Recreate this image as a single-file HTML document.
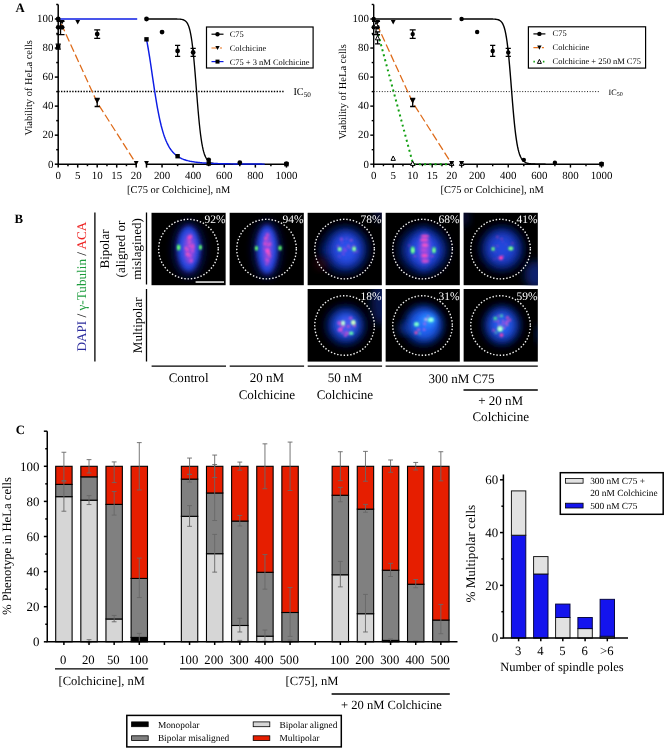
<!DOCTYPE html>
<html><head><meta charset="utf-8"><title>Figure</title>
<style>html,body{margin:0;padding:0;background:#fff}svg{display:block}text{font-family:"Liberation Serif",serif;text-rendering:geometricPrecision}svg{will-change:transform}</style></head><body>
<svg width="668" height="748" viewBox="0 0 668 748" font-family="Liberation Serif, serif">
<rect width="668" height="748" fill="#fff"/>
<g font-weight="bold" font-size="12.8"><text x="15.6" y="12.2">A</text><text x="14.6" y="222.9">B</text><text x="15.8" y="434">C</text></g>
<!-- panel A left -->
<g stroke="#000" stroke-width="1.5" fill="none">
<path d="M58.2 4.48V164.2H136.20"/>
<path d="M146.50 164.2H286.45"/>
<path d="M58.2 164.20h-3.4"/>
<path d="M58.2 149.68h-2"/>
<path d="M58.2 135.16h-3.4"/>
<path d="M58.2 120.64h-2"/>
<path d="M58.2 106.12h-3.4"/>
<path d="M58.2 91.60h-2"/>
<path d="M58.2 77.08h-3.4"/>
<path d="M58.2 62.56h-2"/>
<path d="M58.2 48.04h-3.4"/>
<path d="M58.2 33.52h-2"/>
<path d="M58.2 19.00h-3.4"/>
<path d="M58.2 4.48h-2"/>
<path d="M58.20 164.2v3.4"/>
<path d="M67.95 164.2v2"/>
<path d="M77.70 164.2v3.4"/>
<path d="M87.45 164.2v2"/>
<path d="M97.20 164.2v3.4"/>
<path d="M106.95 164.2v2"/>
<path d="M116.70 164.2v3.4"/>
<path d="M126.45 164.2v2"/>
<path d="M136.20 164.2v3.4"/>
<path d="M146.50 164.2v3.4"/>
<path d="M162.05 164.2v3.4"/>
<path d="M177.60 164.2v2"/>
<path d="M193.15 164.2v3.4"/>
<path d="M208.70 164.2v2"/>
<path d="M224.25 164.2v3.4"/>
<path d="M239.80 164.2v2"/>
<path d="M255.35 164.2v3.4"/>
<path d="M270.90 164.2v2"/>
<path d="M286.45 164.2v3.4"/>
</g>
<g font-size="10.45" fill="#000">
<text x="53.400000000000006" y="167.50" text-anchor="end" font-size="10.9">0</text>
<text x="53.400000000000006" y="138.46" text-anchor="end" font-size="10.9">20</text>
<text x="53.400000000000006" y="109.42" text-anchor="end" font-size="10.9">40</text>
<text x="53.400000000000006" y="80.38" text-anchor="end" font-size="10.9">60</text>
<text x="53.400000000000006" y="51.34" text-anchor="end" font-size="10.9">80</text>
<text x="53.400000000000006" y="22.30" text-anchor="end" font-size="10.9">100</text>
<text x="58.20" y="179.29999999999998" text-anchor="middle" font-size="10.9">0</text>
<text x="77.70" y="179.29999999999998" text-anchor="middle" font-size="10.9">5</text>
<text x="97.20" y="179.29999999999998" text-anchor="middle" font-size="10.9">10</text>
<text x="116.70" y="179.29999999999998" text-anchor="middle" font-size="10.9">15</text>
<text x="136.20" y="179.29999999999998" text-anchor="middle" font-size="10.9">20</text>
<text x="162.05" y="179.29999999999998" text-anchor="middle" font-size="10.9">200</text>
<text x="193.15" y="179.29999999999998" text-anchor="middle" font-size="10.9">400</text>
<text x="224.25" y="179.29999999999998" text-anchor="middle" font-size="10.9">600</text>
<text x="255.35" y="179.29999999999998" text-anchor="middle" font-size="10.9">800</text>
<text x="286.45" y="179.29999999999998" text-anchor="middle" font-size="10.9">1000</text>
<text x="178.7" y="192.79999999999998" text-anchor="middle">[C75 or Colchicine], nM</text>
<text transform="translate(32.400000000000006 87.8) rotate(-90)" text-anchor="middle">Viability of HeLa cells</text>
</g>
<path d="M58.2 91.60H284.45" stroke="#000" stroke-width="1.5" stroke-dasharray="1.4 1.4" fill="none"/>
<text x="293.4" y="94.6" font-size="10.3">IC<tspan font-size="7.2" dy="2.2">50</tspan></text>
<path d="M146.50 19.00 L147.12 19.00 L147.74 19.00 L148.37 19.00 L148.99 19.00 L149.61 19.00 L150.23 19.00 L150.85 19.00 L151.48 19.00 L152.10 19.00 L152.72 19.00 L153.34 19.00 L153.96 19.00 L154.59 19.00 L155.21 19.00 L155.83 19.00 L156.45 19.00 L157.07 19.00 L157.70 19.00 L158.32 19.00 L158.94 19.00 L159.56 19.00 L160.18 19.00 L160.81 19.00 L161.43 19.00 L162.05 19.00 L162.67 19.00 L163.29 19.00 L163.92 19.00 L164.54 19.00 L165.16 19.00 L165.78 19.00 L166.40 19.00 L167.03 19.00 L167.65 19.00 L168.27 19.00 L168.89 19.00 L169.51 19.00 L170.14 19.00 L170.76 19.00 L171.38 19.00 L172.00 19.00 L172.62 19.00 L173.25 19.01 L173.87 19.01 L174.49 19.01 L175.11 19.02 L175.73 19.02 L176.36 19.03 L176.98 19.04 L177.60 19.06 L178.22 19.08 L178.84 19.10 L179.47 19.14 L180.09 19.19 L180.71 19.25 L181.33 19.33 L181.95 19.44 L182.58 19.58 L183.20 19.76 L183.82 20.00 L184.44 20.31 L185.06 20.70 L185.69 21.21 L186.31 21.85 L186.93 22.66 L187.55 23.69 L188.17 24.97 L188.80 26.57 L189.42 28.54 L190.04 30.95 L190.66 33.88 L191.28 37.37 L191.91 41.50 L192.53 46.31 L193.15 51.81 L193.77 57.98 L194.39 64.77 L195.02 72.07 L195.64 79.75 L196.26 87.64 L196.88 95.54 L197.50 103.28 L198.13 110.69 L198.75 117.64 L199.37 124.02 L199.99 129.78 L200.61 134.90 L201.24 139.39 L201.86 143.29 L202.48 146.63 L203.10 149.48 L203.72 151.90 L204.35 153.93 L204.97 155.63 L205.59 157.06 L206.21 158.25 L206.83 159.24 L207.46 160.07 L208.08 160.75 L208.70 161.32 L209.32 161.80 L209.94 162.19 L210.57 162.52 L211.19 162.79 L211.81 163.02 L212.43 163.21 L213.05 163.37 L213.68 163.50 L214.30 163.61 L214.92 163.70 L215.54 163.78 L216.16 163.84 L216.79 163.90 L217.41 163.94 L218.03 163.98 L218.65 164.02 L219.27 164.04 L219.90 164.07 L220.52 164.09 L221.14 164.10 L221.76 164.12 L222.38 164.13 L223.01 164.14 L223.63 164.15 L224.25 164.16 L224.87 164.16 L225.49 164.17 L226.12 164.17 L226.74 164.18 L227.36 164.18 L227.98 164.18 L228.60 164.18 L229.23 164.19 L229.85 164.19 L230.47 164.19" stroke="#000" stroke-width="1.35" fill="none"/>
<path d="M58.2 19.00H137.20" stroke="#0c1ce4" stroke-width="1.45" fill="none"/>
<path d="M146.50 39.54 L147.28 43.47 L148.06 47.75 L148.83 52.34 L149.61 57.20 L150.39 62.26 L151.16 67.48 L151.94 72.78 L152.72 78.09 L153.50 83.37 L154.28 88.55 L155.05 93.60 L155.83 98.46 L156.61 103.12 L157.38 107.55 L158.16 111.74 L158.94 115.67 L159.72 119.35 L160.50 122.77 L161.27 125.96 L162.05 128.90 L162.83 131.62 L163.60 134.13 L164.38 136.44 L165.16 138.57 L165.94 140.52 L166.72 142.30 L167.49 143.95 L168.27 145.45 L169.05 146.83 L169.82 148.10 L170.60 149.27 L171.38 150.33 L172.16 151.31 L172.94 152.21 L173.71 153.04 L174.49 153.80 L175.27 154.51 L176.04 155.15 L176.82 155.75 L177.60 156.30 L178.38 156.81 L179.16 157.27 L179.93 157.71 L180.71 158.11 L181.49 158.48 L182.26 158.83 L183.04 159.15 L183.82 159.45 L184.60 159.72 L185.38 159.98 L186.15 160.22 L186.93 160.44 L187.71 160.65 L188.49 160.84 L189.26 161.03 L190.04 161.20 L190.82 161.35 L191.59 161.50 L192.37 161.64 L193.15 161.77 L193.93 161.90 L194.70 162.01 L195.48 162.12 L196.26 162.22 L197.04 162.32 L197.81 162.41 L198.59 162.49 L199.37 162.57 L200.15 162.65 L200.93 162.72 L201.70 162.78 L202.48 162.85 L203.26 162.91 L204.03 162.97 L204.81 163.02 L205.59 163.07 L206.37 163.12 L207.15 163.16 L207.92 163.21 L208.70 163.25 L209.48 163.29 L210.25 163.32 L211.03 163.36 L211.81 163.39 L212.59 163.43 L213.37 163.46 L214.14 163.48 L214.92 163.51 L215.70 163.54 L216.47 163.56 L217.25 163.59 L218.03 163.61 L218.81 163.63 L219.58 163.65 L220.36 163.67 L221.14 163.69 L221.92 163.71 L222.69 163.73 L223.47 163.74 L224.25 163.76 L225.03 163.77 L225.81 163.79 L226.58 163.80 L227.36 163.82 L228.14 163.83 L228.92 163.84 L229.69 163.85 L230.47 163.86 L231.25 163.88 L232.03 163.89 L232.80 163.90 L233.58 163.91 L234.36 163.91 L235.13 163.92 L235.91 163.93 L236.69 163.94 L237.47 163.95 L238.25 163.96 L239.02 163.96 L239.80 163.97 L240.58 163.98 L241.36 163.98 L242.13 163.99 L242.91 164.00 L243.69 164.00 L244.47 164.01 L245.24 164.01 L246.02 164.02 L246.80 164.02 L247.57 164.03 L248.35 164.03 L249.13 164.04 L249.91 164.04 L250.69 164.05 L251.46 164.05 L252.24 164.05 L253.02 164.06 L253.80 164.06 L254.57 164.07 L255.35 164.07 L256.13 164.07 L256.90 164.08 L257.68 164.08 L258.46 164.08 L259.24 164.09 L260.01 164.09 L260.79 164.09 L261.57 164.09 L262.35 164.10 L263.12 164.10 L263.90 164.10 L264.68 164.10" stroke="#0c1ce4" stroke-width="1.45" fill="none"/>
<path d="M61.32 24.08L97.20 102.49L136.20 163.76" stroke="#de6a18" stroke-width="1.25" stroke-dasharray="8 3.2" fill="none"/>
<circle cx="58.20" cy="19.00" r="2.4" fill="#000"/>
<circle cx="58.20" cy="27.28" r="2.4" fill="#000"/>
<circle cx="62.10" cy="27.28" r="2.4" fill="#000"/>
<path d="M97.20 29.90V38.30M94.20 29.90h6M94.20 38.30h6" stroke="#000" stroke-width="1.3" fill="none"/>
<circle cx="97.20" cy="34.10" r="2.4" fill="#000"/>
<circle cx="146.50" cy="19.00" r="2.4" fill="#000"/>
<circle cx="162.05" cy="32.07" r="2.4" fill="#000"/>
<path d="M177.60 45.44V56.44M175.00 45.44h5.2M175.00 56.44h5.2" stroke="#000" stroke-width="1.3" fill="none"/>
<circle cx="177.60" cy="50.94" r="2.4" fill="#000"/>
<path d="M193.15 48.40V56.40M190.55 48.40h5.2M190.55 56.40h5.2" stroke="#000" stroke-width="1.3" fill="none"/>
<circle cx="193.15" cy="52.40" r="2.4" fill="#000"/>
<circle cx="208.70" cy="159.84" r="2.4" fill="#000"/>
<circle cx="239.80" cy="162.75" r="2.4" fill="#000"/>
<circle cx="286.45" cy="163.76" r="2.4" fill="#000"/>
<path d="M60.54 21.40V34.60M56.54 21.40h8M56.54 34.60h8" stroke="#000" stroke-width="1.3" fill="none"/>
<path d="M59.70 19.98h4.8l-2.4 4.56z" fill="#000"/>
<path d="M75.30 19.98h4.8l-2.4 4.56z" fill="#000"/>
<path d="M97.20 98.49V106.49M94.60 98.49h5.2M94.60 106.49h5.2" stroke="#000" stroke-width="1.3" fill="none"/>
<path d="M94.80 99.12h4.8l-2.4 4.56z" fill="#000"/>
<path d="M133.80 161.12h4.8l-2.4 4.56z" fill="#000"/>
<path d="M144.10 161.12h4.8l-2.4 4.56z" fill="#000"/>
<path d="M58.20 44.09V49.09M55.60 44.09h5.2M55.60 49.09h5.2" stroke="#000" stroke-width="1.3" fill="none"/>
<rect x="56.00" y="44.39" width="4.4" height="4.4" fill="#000"/>
<rect x="144.30" y="37.13" width="4.4" height="4.4" fill="#000"/>
<rect x="175.40" y="154.01" width="4.4" height="4.4" fill="#000"/>
<rect x="206.50" y="161.27" width="4.4" height="4.4" fill="#000"/>
<rect x="284.25" y="162.00" width="4.4" height="4.4" fill="#000"/>
<rect x="206.5" y="27" width="106.6" height="41" fill="#fff" stroke="#000" stroke-width="1.2"/>
<path d="M211.5 34.2h12" stroke="#000" stroke-width="1.2"/><circle cx="217.50" cy="34.20" r="2.2" fill="#000"/>
<path d="M211.5 48h5m3.5 0h2" stroke="#e8701a" stroke-width="1.2"/><path d="M215.30 45.94h4.4l-2.2 4.18z" fill="#000"/>
<path d="M211.5 61.6h12" stroke="#0c1ce4" stroke-width="1.2"/><rect x="215.50" y="59.60" width="4" height="4" fill="#000"/>
<g font-size="8.45"><text x="229.7" y="36.6">C75</text><text x="229.7" y="50.6">Colchicine</text><text x="229.7" y="64.5">C75 + 3 nM Colchicine</text></g>
<!-- panel A right -->
<g stroke="#000" stroke-width="1.4" fill="none">
<path d="M373.7 4.48V164.2H451.70"/>
<path d="M461.60 164.2H601.55"/>
<path d="M373.7 164.20h-3.4"/>
<path d="M373.7 149.68h-2"/>
<path d="M373.7 135.16h-3.4"/>
<path d="M373.7 120.64h-2"/>
<path d="M373.7 106.12h-3.4"/>
<path d="M373.7 91.60h-2"/>
<path d="M373.7 77.08h-3.4"/>
<path d="M373.7 62.56h-2"/>
<path d="M373.7 48.04h-3.4"/>
<path d="M373.7 33.52h-2"/>
<path d="M373.7 19.00h-3.4"/>
<path d="M373.7 4.48h-2"/>
<path d="M373.70 164.2v3.4"/>
<path d="M383.45 164.2v2"/>
<path d="M393.20 164.2v3.4"/>
<path d="M402.95 164.2v2"/>
<path d="M412.70 164.2v3.4"/>
<path d="M422.45 164.2v2"/>
<path d="M432.20 164.2v3.4"/>
<path d="M441.95 164.2v2"/>
<path d="M451.70 164.2v3.4"/>
<path d="M461.60 164.2v3.4"/>
<path d="M477.15 164.2v3.4"/>
<path d="M492.70 164.2v2"/>
<path d="M508.25 164.2v3.4"/>
<path d="M523.80 164.2v2"/>
<path d="M539.35 164.2v3.4"/>
<path d="M554.90 164.2v2"/>
<path d="M570.45 164.2v3.4"/>
<path d="M586.00 164.2v2"/>
<path d="M601.55 164.2v3.4"/>
</g>
<g font-size="10.45" fill="#000">
<text x="368.9" y="167.50" text-anchor="end" font-size="10.9">0</text>
<text x="368.9" y="138.46" text-anchor="end" font-size="10.9">20</text>
<text x="368.9" y="109.42" text-anchor="end" font-size="10.9">40</text>
<text x="368.9" y="80.38" text-anchor="end" font-size="10.9">60</text>
<text x="368.9" y="51.34" text-anchor="end" font-size="10.9">80</text>
<text x="368.9" y="22.30" text-anchor="end" font-size="10.9">100</text>
<text x="373.70" y="179.29999999999998" text-anchor="middle" font-size="10.9">0</text>
<text x="393.20" y="179.29999999999998" text-anchor="middle" font-size="10.9">5</text>
<text x="412.70" y="179.29999999999998" text-anchor="middle" font-size="10.9">10</text>
<text x="432.20" y="179.29999999999998" text-anchor="middle" font-size="10.9">15</text>
<text x="451.70" y="179.29999999999998" text-anchor="middle" font-size="10.9">20</text>
<text x="477.15" y="179.29999999999998" text-anchor="middle" font-size="10.9">200</text>
<text x="508.25" y="179.29999999999998" text-anchor="middle" font-size="10.9">400</text>
<text x="539.35" y="179.29999999999998" text-anchor="middle" font-size="10.9">600</text>
<text x="570.45" y="179.29999999999998" text-anchor="middle" font-size="10.9">800</text>
<text x="601.55" y="179.29999999999998" text-anchor="middle" font-size="10.9">1000</text>
<text x="492.2" y="192.79999999999998" text-anchor="middle">[C75 or Colchicine], nM</text>
<text transform="translate(345.9 91.9) rotate(-90)" text-anchor="middle">Viability of HeLa cells</text>
</g>
<path d="M373.7 91.60H599.55" stroke="#000" stroke-width="0.9" stroke-dasharray="1 1.7" fill="none"/>
<text x="608.5" y="94.6" font-size="8.2">IC<tspan font-size="6" dy="1.8">50</tspan></text>
<path d="M373.7 19.00H451.70" stroke="#000" stroke-width="1.4" fill="none"/>
<path d="M461.60 19.00 L462.22 19.00 L462.84 19.00 L463.47 19.00 L464.09 19.00 L464.71 19.00 L465.33 19.00 L465.95 19.00 L466.58 19.00 L467.20 19.00 L467.82 19.00 L468.44 19.00 L469.06 19.00 L469.69 19.00 L470.31 19.00 L470.93 19.00 L471.55 19.00 L472.17 19.00 L472.80 19.00 L473.42 19.00 L474.04 19.00 L474.66 19.00 L475.28 19.00 L475.91 19.00 L476.53 19.00 L477.15 19.00 L477.77 19.00 L478.39 19.00 L479.02 19.00 L479.64 19.00 L480.26 19.00 L480.88 19.00 L481.50 19.00 L482.13 19.00 L482.75 19.00 L483.37 19.00 L483.99 19.00 L484.61 19.00 L485.24 19.00 L485.86 19.00 L486.48 19.00 L487.10 19.00 L487.72 19.00 L488.35 19.01 L488.97 19.01 L489.59 19.01 L490.21 19.02 L490.83 19.02 L491.46 19.03 L492.08 19.04 L492.70 19.06 L493.32 19.08 L493.94 19.10 L494.57 19.14 L495.19 19.19 L495.81 19.25 L496.43 19.33 L497.05 19.44 L497.68 19.58 L498.30 19.76 L498.92 20.00 L499.54 20.31 L500.16 20.70 L500.79 21.21 L501.41 21.85 L502.03 22.66 L502.65 23.69 L503.27 24.97 L503.90 26.57 L504.52 28.54 L505.14 30.95 L505.76 33.88 L506.38 37.37 L507.01 41.50 L507.63 46.31 L508.25 51.81 L508.87 57.98 L509.49 64.77 L510.12 72.07 L510.74 79.75 L511.36 87.64 L511.98 95.54 L512.60 103.28 L513.23 110.69 L513.85 117.64 L514.47 124.02 L515.09 129.78 L515.71 134.90 L516.34 139.39 L516.96 143.29 L517.58 146.63 L518.20 149.48 L518.82 151.90 L519.45 153.93 L520.07 155.63 L520.69 157.06 L521.31 158.25 L521.93 159.24 L522.56 160.07 L523.18 160.75 L523.80 161.32 L524.42 161.80 L525.04 162.19 L525.67 162.52 L526.29 162.79 L526.91 163.02 L527.53 163.21 L528.15 163.37 L528.78 163.50 L529.40 163.61 L530.02 163.70 L530.64 163.78 L531.26 163.84 L531.89 163.90 L532.51 163.94 L533.13 163.98 L533.75 164.02 L534.37 164.04 L535.00 164.07 L535.62 164.09 L536.24 164.10 L536.86 164.12 L537.48 164.13 L538.11 164.14 L538.73 164.15 L539.35 164.16 L539.97 164.16 L540.59 164.17 L541.22 164.17 L541.84 164.18 L542.46 164.18 L543.08 164.18 L543.70 164.18 L544.33 164.19 L544.95 164.19 L545.57 164.19" stroke="#000" stroke-width="1.4" fill="none"/>
<path d="M376.82 24.08L412.70 102.49L451.70 163.76" stroke="#de6a18" stroke-width="1.25" stroke-dasharray="8 3.2" fill="none"/>
<path d="M378.19 34.25L413.09 164.20H451.70" stroke="#12a012" stroke-width="2" stroke-dasharray="2 3.2" fill="none"/>
<circle cx="373.70" cy="19.00" r="2.2" fill="#000"/>
<circle cx="373.70" cy="27.28" r="2.2" fill="#000"/>
<circle cx="377.60" cy="27.28" r="2.2" fill="#000"/>
<path d="M412.70 29.90V38.30M409.70 29.90h6M409.70 38.30h6" stroke="#000" stroke-width="1.3" fill="none"/>
<circle cx="412.70" cy="34.10" r="2.2" fill="#000"/>
<circle cx="461.60" cy="19.00" r="2.2" fill="#000"/>
<circle cx="477.15" cy="32.07" r="2.2" fill="#000"/>
<path d="M492.70 45.44V56.44M490.10 45.44h5.2M490.10 56.44h5.2" stroke="#000" stroke-width="1.3" fill="none"/>
<circle cx="492.70" cy="50.94" r="2.2" fill="#000"/>
<path d="M508.25 48.40V56.40M505.65 48.40h5.2M505.65 56.40h5.2" stroke="#000" stroke-width="1.3" fill="none"/>
<circle cx="508.25" cy="52.40" r="2.2" fill="#000"/>
<circle cx="523.80" cy="159.84" r="2.2" fill="#000"/>
<circle cx="554.90" cy="162.75" r="2.2" fill="#000"/>
<circle cx="601.55" cy="163.76" r="2.2" fill="#000"/>
<path d="M376.04 21.40V34.60M372.04 21.40h8M372.04 34.60h8" stroke="#000" stroke-width="1.3" fill="none"/>
<path d="M375.20 19.98h4.8l-2.4 4.56z" fill="#000"/>
<path d="M390.80 19.98h4.8l-2.4 4.56z" fill="#000"/>
<path d="M412.70 98.49V106.49M410.10 98.49h5.2M410.10 106.49h5.2" stroke="#000" stroke-width="1.3" fill="none"/>
<path d="M410.30 99.12h4.8l-2.4 4.56z" fill="#000"/>
<path d="M449.30 161.12h4.8l-2.4 4.56z" fill="#000"/>
<path d="M459.20 161.12h4.8l-2.4 4.56z" fill="#000"/>
<path d="M377.60 31.88V43.88M375.00 31.88h5.2M375.00 43.88h5.2" stroke="#000" stroke-width="1.3" fill="none"/>
<path d="M373.84 26.79h4.4l-2.2 -4.4z" fill="#fff" stroke="#000" stroke-width="1"/>
<path d="M375.40 39.86h4.4l-2.2 -4.4z" fill="#fff" stroke="#000" stroke-width="1"/>
<path d="M391.00 160.37h4.4l-2.2 -4.4z" fill="#fff" stroke="#000" stroke-width="1"/>
<path d="M410.50 165.45h4.4l-2.2 -4.4z" fill="#fff" stroke="#000" stroke-width="1"/>
<path d="M449.50 165.45h4.4l-2.2 -4.4z" fill="#fff" stroke="#000" stroke-width="1"/>
<path d="M459.40 165.45h4.4l-2.2 -4.4z" fill="#fff" stroke="#000" stroke-width="1"/>
<path d="M449.50 161.28h4.4l-2.2 4.18z" fill="#000"/>
<path d="M459.40 161.28h4.4l-2.2 4.18z" fill="#000"/>
<rect x="599.35" y="162.00" width="4.4" height="4.4" fill="#000"/>
<rect x="528.4" y="26.8" width="117.2" height="41.3" fill="#fff" stroke="#000" stroke-width="1.2"/>
<path d="M533.4 33.9h12" stroke="#000" stroke-width="1.2"/><circle cx="539.40" cy="33.90" r="2.2" fill="#000"/>
<path d="M533.4 47.6h5m3.5 0h2" stroke="#e8701a" stroke-width="1.2"/><path d="M537.20 45.54h4.4l-2.2 4.18z" fill="#000"/>
<path d="M533.4 61.599999999999994h12" stroke="#12a012" stroke-width="1.6" stroke-dasharray="1.5 8"/><path d="M537.40 63.40h4l-2 -4z" fill="#fff" stroke="#000" stroke-width="1"/>
<g font-size="8.46"><text x="552.6" y="36.0">C75</text><text x="552.6" y="50.2">Colchicine</text><text x="552.6" y="63.7">Colchicine + 250 nM C75</text></g>
<!-- panel B -->
<defs>
<filter id="b1" x="-50%" y="-50%" width="200%" height="200%"><feGaussianBlur stdDeviation="0.8"/></filter>
<filter id="b2" x="-50%" y="-50%" width="200%" height="200%"><feGaussianBlur stdDeviation="2.2"/></filter>
<filter id="b4" x="-50%" y="-50%" width="200%" height="200%"><feGaussianBlur stdDeviation="4"/></filter>
<filter id="b7" x="-50%" y="-50%" width="200%" height="200%"><feGaussianBlur stdDeviation="7"/></filter>
<clipPath id="cc"><rect x="0" y="0" width="74.5" height="72.8"/></clipPath>
</defs>
<g transform="translate(151.3 212.6)"><g clip-path="url(#cc)">
<rect width="74.5" height="72.8" fill="#000"/>
<ellipse cx="37.4" cy="36.8" rx="15.5" ry="27.5" fill="#08166c" opacity="0.9" filter="url(#b4)"/>
<ellipse cx="37.4" cy="36.2" rx="11" ry="22.5" fill="#2846dc" opacity="1" filter="url(#b2)"/>
<ellipse cx="37.4" cy="34" rx="7" ry="12" fill="#3058ee" opacity="0.7" filter="url(#b4)"/>
<ellipse cx="38.2" cy="36.2" rx="5.6" ry="15.5" fill="#9a48e0" opacity="0.9" filter="url(#b2)"/>
<ellipse cx="35.8" cy="37.4" rx="1.13" ry="1.25" fill="#ff50c0" opacity="0.72" filter="url(#b1)"/>
<ellipse cx="42.0" cy="35.3" rx="1.3" ry="1.16" fill="#d050e0" opacity="0.69" filter="url(#b1)"/>
<ellipse cx="38.7" cy="33.3" rx="1.57" ry="1.44" fill="#e850d0" opacity="0.84" filter="url(#b1)"/>
<ellipse cx="38.4" cy="43.0" rx="1.4" ry="1.17" fill="#ff50c0" opacity="0.59" filter="url(#b1)"/>
<ellipse cx="37.9" cy="42.3" rx="1.59" ry="1.84" fill="#d050e0" opacity="0.63" filter="url(#b1)"/>
<ellipse cx="41.0" cy="34.6" rx="1.64" ry="2.04" fill="#ff50c0" opacity="0.47" filter="url(#b1)"/>
<ellipse cx="38.2" cy="29.4" rx="1.4" ry="1.67" fill="#ff60b8" opacity="0.64" filter="url(#b1)"/>
<ellipse cx="41.3" cy="38.3" rx="1.28" ry="1.29" fill="#e850d0" opacity="0.86" filter="url(#b1)"/>
<ellipse cx="39.9" cy="48.2" rx="1.57" ry="2.03" fill="#e850d0" opacity="0.76" filter="url(#b1)"/>
<ellipse cx="36.6" cy="37.4" rx="1.31" ry="1.12" fill="#e850d0" opacity="0.73" filter="url(#b1)"/>
<ellipse cx="34.7" cy="35.7" rx="1.37" ry="1.43" fill="#ff60b8" opacity="0.81" filter="url(#b1)"/>
<ellipse cx="37.4" cy="26.4" rx="1.06" ry="1.26" fill="#ff50c0" opacity="0.47" filter="url(#b1)"/>
<ellipse cx="39.3" cy="23.5" rx="1.45" ry="1.4" fill="#ff60b8" opacity="0.68" filter="url(#b1)"/>
<ellipse cx="34.3" cy="39.0" rx="0.83" ry="0.74" fill="#d050e0" opacity="0.58" filter="url(#b1)"/>
<ellipse cx="36.0" cy="41.5" rx="1.68" ry="1.63" fill="#ff60b8" opacity="0.88" filter="url(#b1)"/>
<ellipse cx="41.8" cy="32.8" rx="1.21" ry="1.29" fill="#ff50c0" opacity="0.73" filter="url(#b1)"/>
<ellipse cx="38.3" cy="24.8" rx="1.8" ry="1.5" fill="#ff48c0" opacity="1" filter="url(#b1)"/>
<ellipse cx="27.3" cy="35.0" rx="1.7" ry="3.0" fill="#50ff60" opacity="1" filter="url(#b1)"/>
<ellipse cx="27.3" cy="35.0" rx="0.8" ry="1.6" fill="#90ff90" opacity="1" filter="url(#b1)"/>
<ellipse cx="49.1" cy="34.7" rx="1.5" ry="2.6" fill="#50ff60" opacity="1" filter="url(#b1)"/>
<ellipse cx="49.1" cy="34.7" rx="0.7" ry="1.3" fill="#90ff90" opacity="1" filter="url(#b1)"/>
<circle cx="37.15" cy="36.5" r="29.8" fill="none" stroke="#fff" stroke-width="1.4" stroke-dasharray="1.45 1.85" opacity="0.95"/>
<rect x="44.3" y="68.6" width="28.4" height="1.7" fill="#d8d8d8"/>
<text x="74.2" y="10.8" font-size="11.5" fill="#fff" text-anchor="end">92%</text>
</g></g>
<g transform="translate(229.4 212.6)"><g clip-path="url(#cc)">
<rect width="74.5" height="72.8" fill="#000"/>
<ellipse cx="37.7" cy="36.9" rx="14" ry="28.5" fill="#08166c" opacity="0.9" filter="url(#b4)"/>
<ellipse cx="37.7" cy="36.9" rx="10" ry="24" fill="#2846dc" opacity="1" filter="url(#b2)"/>
<ellipse cx="37.7" cy="33" rx="6.5" ry="12" fill="#3058ee" opacity="0.6" filter="url(#b4)"/>
<ellipse cx="37.9" cy="36.3" rx="4.4" ry="17.5" fill="#9a48e0" opacity="0.9" filter="url(#b2)"/>
<ellipse cx="36.7" cy="25.1" rx="1.39" ry="1.16" fill="#ff50c0" opacity="0.61" filter="url(#b1)"/>
<ellipse cx="34.9" cy="36.5" rx="0.83" ry="0.85" fill="#ff50c0" opacity="0.56" filter="url(#b1)"/>
<ellipse cx="38.2" cy="22.2" rx="1.31" ry="1.67" fill="#ff50c0" opacity="0.71" filter="url(#b1)"/>
<ellipse cx="37.2" cy="51.5" rx="0.84" ry="1.03" fill="#ff60b8" opacity="0.64" filter="url(#b1)"/>
<ellipse cx="38.2" cy="38.6" rx="1.3" ry="1.49" fill="#ff50c0" opacity="0.71" filter="url(#b1)"/>
<ellipse cx="38.8" cy="32.2" rx="1.29" ry="1.07" fill="#ff50c0" opacity="0.73" filter="url(#b1)"/>
<ellipse cx="37.9" cy="37.3" rx="1.5" ry="1.55" fill="#d050e0" opacity="0.61" filter="url(#b1)"/>
<ellipse cx="36.2" cy="26.1" rx="1.5" ry="1.26" fill="#ff60b8" opacity="0.69" filter="url(#b1)"/>
<ellipse cx="40.5" cy="43.6" rx="1.06" ry="1.37" fill="#ff50c0" opacity="0.68" filter="url(#b1)"/>
<ellipse cx="35.6" cy="31.2" rx="1.64" ry="1.66" fill="#ff50c0" opacity="0.79" filter="url(#b1)"/>
<ellipse cx="38.4" cy="48.3" rx="1.08" ry="1.24" fill="#d050e0" opacity="0.71" filter="url(#b1)"/>
<ellipse cx="37.6" cy="47.2" rx="1.65" ry="1.71" fill="#ff50c0" opacity="0.48" filter="url(#b1)"/>
<ellipse cx="39.3" cy="41.0" rx="1.69" ry="2.05" fill="#ff60b8" opacity="0.77" filter="url(#b1)"/>
<ellipse cx="40.5" cy="31.4" rx="1.65" ry="1.61" fill="#ff50c0" opacity="0.67" filter="url(#b1)"/>
<ellipse cx="36.0" cy="29.5" rx="1.46" ry="1.46" fill="#d050e0" opacity="0.49" filter="url(#b1)"/>
<ellipse cx="38.1" cy="38.1" rx="1.8" ry="1.8" fill="#ff50d0" opacity="1" filter="url(#b1)"/>
<ellipse cx="27.0" cy="35.7" rx="1.5" ry="2.4" fill="#50ff60" opacity="1" filter="url(#b1)"/>
<ellipse cx="27.0" cy="35.7" rx="0.7" ry="1.2" fill="#90ff90" opacity="1" filter="url(#b1)"/>
<ellipse cx="50.7" cy="35.5" rx="1.6" ry="2.5" fill="#50ff60" opacity="1" filter="url(#b1)"/>
<ellipse cx="50.7" cy="35.5" rx="0.7" ry="1.3" fill="#90ff90" opacity="1" filter="url(#b1)"/>
<circle cx="37.15" cy="36.5" r="29.8" fill="none" stroke="#fff" stroke-width="1.4" stroke-dasharray="1.45 1.85" opacity="0.95"/>
<text x="74.2" y="10.8" font-size="11.5" fill="#fff" text-anchor="end">94%</text>
</g></g>
<g transform="translate(307.4 212.6)"><g clip-path="url(#cc)">
<rect width="74.5" height="72.8" fill="#000"/>
<ellipse cx="73" cy="2" rx="7" ry="7" fill="#0a1e70" opacity="0.5" filter="url(#b4)"/>
<ellipse cx="37.5" cy="37" rx="24.2" ry="24.2" fill="#061258" opacity="0.9" filter="url(#b4)"/>
<ellipse cx="20" cy="37.5" rx="5" ry="5" fill="#10288c" opacity="0.8" filter="url(#b4)"/>
<ellipse cx="38.2" cy="36.8" rx="17.5" ry="18.9" fill="#1834b0" opacity="1" filter="url(#b4)"/>
<ellipse cx="38.7" cy="36.3" rx="12.6" ry="14.5" fill="#2c50ea" opacity="1" filter="url(#b4)"/>
<ellipse cx="14" cy="51" rx="6" ry="5" fill="#601020" opacity="0.55" filter="url(#b4)"/>
<ellipse cx="37.7" cy="37.9" rx="1.63" ry="1.69" fill="#a848e0" opacity="0.6" filter="url(#b1)"/>
<ellipse cx="31.9" cy="43.8" rx="1.23" ry="1.36" fill="#c048d8" opacity="0.33" filter="url(#b1)"/>
<ellipse cx="34.4" cy="26.7" rx="1.53" ry="1.75" fill="#c048d8" opacity="0.51" filter="url(#b1)"/>
<ellipse cx="36.4" cy="35.4" rx="1.47" ry="1.65" fill="#a848e0" opacity="0.31" filter="url(#b1)"/>
<ellipse cx="39.3" cy="25.9" rx="0.97" ry="0.89" fill="#c048d8" opacity="0.57" filter="url(#b1)"/>
<ellipse cx="34.9" cy="38.7" rx="0.98" ry="0.89" fill="#e050c8" opacity="0.47" filter="url(#b1)"/>
<ellipse cx="42.3" cy="35.5" rx="1.05" ry="1.36" fill="#c048d8" opacity="0.55" filter="url(#b1)"/>
<ellipse cx="34.6" cy="30.0" rx="1.06" ry="0.89" fill="#c048d8" opacity="0.44" filter="url(#b1)"/>
<ellipse cx="46.3" cy="33.8" rx="1.66" ry="2.03" fill="#c048d8" opacity="0.37" filter="url(#b1)"/>
<ellipse cx="36.0" cy="41.5" rx="1.18" ry="1.28" fill="#c048d8" opacity="0.57" filter="url(#b1)"/>
<ellipse cx="33.6" cy="26.6" rx="1.1" ry="1.41" fill="#c048d8" opacity="0.35" filter="url(#b1)"/>
<ellipse cx="37.9" cy="36.2" rx="1.41" ry="1.26" fill="#a848e0" opacity="0.37" filter="url(#b1)"/>
<ellipse cx="43.8" cy="27.6" rx="1.38" ry="1.18" fill="#e050c8" opacity="0.65" filter="url(#b1)"/>
<ellipse cx="49.1" cy="38.7" rx="1.7" ry="1.38" fill="#c048d8" opacity="0.44" filter="url(#b1)"/>
<ellipse cx="46.5" cy="39.9" rx="0.89" ry="1.15" fill="#c048d8" opacity="0.45" filter="url(#b1)"/>
<ellipse cx="46.0" cy="33.8" rx="0.87" ry="0.78" fill="#a848e0" opacity="0.39" filter="url(#b1)"/>
<ellipse cx="40.9" cy="33.4" rx="1.21" ry="1.55" fill="#e050c8" opacity="0.59" filter="url(#b1)"/>
<ellipse cx="30.7" cy="33.8" rx="1.36" ry="1.3" fill="#c048d8" opacity="0.59" filter="url(#b1)"/>
<ellipse cx="32.3" cy="36.6" rx="1.9" ry="2.1" fill="#60ff90" opacity="1" filter="url(#b1)"/>
<ellipse cx="32.3" cy="36.6" rx="0.9" ry="1.0" fill="#f0ffd0" opacity="1" filter="url(#b1)"/>
<ellipse cx="46.7" cy="36.3" rx="2.0" ry="2.4" fill="#60ff90" opacity="1" filter="url(#b1)"/>
<ellipse cx="46.7" cy="36.3" rx="0.9" ry="1.2" fill="#f0ffd0" opacity="1" filter="url(#b1)"/>
<circle cx="37.15" cy="36.5" r="29.8" fill="none" stroke="#fff" stroke-width="1.4" stroke-dasharray="1.45 1.85" opacity="0.95"/>
<text x="74.2" y="10.8" font-size="11.5" fill="#fff" text-anchor="end">78%</text>
</g></g>
<g transform="translate(385.4 212.6)"><g clip-path="url(#cc)">
<rect width="74.5" height="72.8" fill="#000"/>
<ellipse cx="38" cy="37.3" rx="25.2" ry="24.7" fill="#061258" opacity="0.9" filter="url(#b4)"/>
<ellipse cx="38.5" cy="37.3" rx="19.4" ry="17.9" fill="#1834b0" opacity="1" filter="url(#b4)"/>
<ellipse cx="38.7" cy="37.5" rx="9.2" ry="20.9" fill="#1c3cc0" opacity="0.9" filter="url(#b4)"/>
<ellipse cx="38.7" cy="37.4" rx="13.1" ry="13.6" fill="#2c50ea" opacity="1" filter="url(#b4)"/>
<ellipse cx="39.3" cy="36.3" rx="5.2" ry="15" fill="#a048e0" opacity="0.9" filter="url(#b2)"/>
<ellipse cx="39.6" cy="23.5" rx="4.2" ry="1.2" fill="#ff50c0" opacity="0.95" filter="url(#b1)"/>
<ellipse cx="38.6" cy="27.2" rx="4.0" ry="1.3" fill="#ff50c0" opacity="0.9" filter="url(#b1)"/>
<ellipse cx="39.6" cy="32.6" rx="3.0" ry="1.6" fill="#ff58c8" opacity="0.9" filter="url(#b1)"/>
<ellipse cx="38.4" cy="37.5" rx="2.6" ry="1.2" fill="#e050d0" opacity="0.6" filter="url(#b1)"/>
<ellipse cx="39.2" cy="43.0" rx="3.2" ry="1.6" fill="#ff50c0" opacity="0.95" filter="url(#b1)"/>
<ellipse cx="40.0" cy="48.6" rx="3.6" ry="1.4" fill="#f050c8" opacity="0.8" filter="url(#b1)"/>
<ellipse cx="47" cy="43.5" rx="1.6" ry="1.2" fill="#e040c0" opacity="0.6" filter="url(#b1)"/>
<ellipse cx="29.5" cy="43.5" rx="1.4" ry="1.2" fill="#e040c0" opacity="0.6" filter="url(#b1)"/>
<ellipse cx="24" cy="33" rx="1.2" ry="1.0" fill="#c040c0" opacity="0.5" filter="url(#b1)"/>
<ellipse cx="27.3" cy="37.5" rx="2.0" ry="3.6" fill="#50ff80" opacity="1" filter="url(#b1)"/>
<ellipse cx="27.6" cy="37.8" rx="0.9" ry="1.8" fill="#b0ffc0" opacity="1" filter="url(#b1)"/>
<ellipse cx="48.6" cy="37.5" rx="1.7" ry="3.2" fill="#50ff80" opacity="1" filter="url(#b1)"/>
<ellipse cx="48.4" cy="37.8" rx="0.8" ry="1.6" fill="#b0ffc0" opacity="1" filter="url(#b1)"/>
<circle cx="37.15" cy="36.5" r="29.8" fill="none" stroke="#fff" stroke-width="1.4" stroke-dasharray="1.45 1.85" opacity="0.95"/>
<text x="74.2" y="10.8" font-size="11.5" fill="#fff" text-anchor="end">68%</text>
</g></g>
<g transform="translate(463.4 212.6)"><g clip-path="url(#cc)">
<rect width="74.5" height="72.8" fill="#000"/>
<ellipse cx="1" cy="5" rx="5" ry="9" fill="#0a1e70" opacity="0.55" filter="url(#b4)"/>
<ellipse cx="72" cy="62" rx="10.7" ry="13.6" fill="#0a2070" opacity="1" filter="url(#b4)"/>
<ellipse cx="38.5" cy="36.3" rx="22.3" ry="22.8" fill="#061258" opacity="0.9" filter="url(#b4)"/>
<ellipse cx="38.7" cy="36" rx="17.5" ry="18.4" fill="#1632a8" opacity="1" filter="url(#b4)"/>
<ellipse cx="38.7" cy="35.7" rx="12.1" ry="13.1" fill="#2446dc" opacity="1" filter="url(#b4)"/>
<ellipse cx="39.5" cy="43.8" rx="1.1" ry="1.4" fill="#c040c8" opacity="0.55" filter="url(#b1)"/>
<ellipse cx="42.5" cy="32.0" rx="0.73" ry="0.64" fill="#e048c0" opacity="0.44" filter="url(#b1)"/>
<ellipse cx="31.9" cy="39.1" rx="0.99" ry="0.8" fill="#c040c8" opacity="0.42" filter="url(#b1)"/>
<ellipse cx="30.6" cy="46.8" rx="0.89" ry="1.06" fill="#c040c8" opacity="0.34" filter="url(#b1)"/>
<ellipse cx="39.3" cy="29.0" rx="0.7" ry="0.87" fill="#c040c8" opacity="0.53" filter="url(#b1)"/>
<ellipse cx="30.3" cy="33.5" rx="0.8" ry="0.99" fill="#c040c8" opacity="0.35" filter="url(#b1)"/>
<ellipse cx="46.3" cy="35.2" rx="0.71" ry="0.72" fill="#c040c8" opacity="0.38" filter="url(#b1)"/>
<ellipse cx="33.6" cy="45.6" rx="0.99" ry="1.09" fill="#e048c0" opacity="0.32" filter="url(#b1)"/>
<ellipse cx="34.1" cy="33.3" rx="1.05" ry="0.94" fill="#e048c0" opacity="0.51" filter="url(#b1)"/>
<ellipse cx="37.5" cy="45.3" rx="2.2" ry="2.2" fill="#ff40b8" opacity="1" filter="url(#b1)"/>
<ellipse cx="34" cy="24.5" rx="1.1" ry="1.1" fill="#e040a8" opacity="0.7" filter="url(#b1)"/>
<ellipse cx="38.2" cy="26.2" rx="1.1" ry="1.1" fill="#e040a8" opacity="0.6" filter="url(#b1)"/>
<ellipse cx="49" cy="31" rx="1" ry="1" fill="#e040a0" opacity="0.6" filter="url(#b1)"/>
<ellipse cx="29.7" cy="36.3" rx="1.6" ry="1.9" fill="#50ff70" opacity="1" filter="url(#b1)"/>
<ellipse cx="29.7" cy="36.3" rx="0.8" ry="0.9" fill="#b0ffb0" opacity="1" filter="url(#b1)"/>
<ellipse cx="47.4" cy="35.9" rx="2.6" ry="2.0" fill="#50ff70" opacity="1" filter="url(#b1)"/>
<ellipse cx="47.4" cy="35.9" rx="1.3" ry="1.0" fill="#c0ffc0" opacity="1" filter="url(#b1)"/>
<circle cx="37.15" cy="36.5" r="29.8" fill="none" stroke="#fff" stroke-width="1.4" stroke-dasharray="1.45 1.85" opacity="0.95"/>
<text x="74.2" y="10.8" font-size="11.5" fill="#fff" text-anchor="end">41%</text>
</g></g>
<g transform="translate(307.4 289.0)"><g clip-path="url(#cc)">
<rect width="74.5" height="72.8" fill="#000"/>
<ellipse cx="73" cy="14" rx="9" ry="22" fill="#0a2474" opacity="0.75" filter="url(#b4)"/>
<ellipse cx="38.3" cy="36.5" rx="20.0" ry="20.0" fill="#06145c" opacity="0.95" filter="url(#b4)"/>
<ellipse cx="38.5" cy="36.3" rx="15.6" ry="15.6" fill="#1636a8" opacity="1" filter="url(#b4)"/>
<ellipse cx="38.7" cy="36" rx="10.8" ry="11.2" fill="#2a62f8" opacity="1" filter="url(#b4)"/>
<ellipse cx="39.5" cy="36" rx="8" ry="8" fill="#5a50e8" opacity="0.55" filter="url(#b2)"/>
<ellipse cx="33.0" cy="40.6" rx="1.51" ry="1.57" fill="#e850d0" opacity="1.0" filter="url(#b1)"/>
<ellipse cx="38.5" cy="45.8" rx="1.15" ry="1.22" fill="#ff50c0" opacity="0.61" filter="url(#b1)"/>
<ellipse cx="46.8" cy="35.6" rx="1.12" ry="1.31" fill="#e850d0" opacity="0.88" filter="url(#b1)"/>
<ellipse cx="37.9" cy="46.4" rx="1.62" ry="1.62" fill="#d050e0" opacity="0.61" filter="url(#b1)"/>
<ellipse cx="35.9" cy="37.0" rx="1.09" ry="1.39" fill="#ff60b8" opacity="0.61" filter="url(#b1)"/>
<ellipse cx="43.3" cy="29.2" rx="1.65" ry="1.33" fill="#e850d0" opacity="0.82" filter="url(#b1)"/>
<ellipse cx="36.2" cy="36.7" rx="1.15" ry="0.94" fill="#e850d0" opacity="0.63" filter="url(#b1)"/>
<ellipse cx="33.6" cy="40.3" rx="1.64" ry="1.85" fill="#ff50c0" opacity="0.65" filter="url(#b1)"/>
<ellipse cx="38.6" cy="43.2" rx="1.16" ry="1.46" fill="#d050e0" opacity="0.72" filter="url(#b1)"/>
<ellipse cx="47.2" cy="37.0" rx="1.25" ry="1.31" fill="#ff60b8" opacity="0.61" filter="url(#b1)"/>
<ellipse cx="31.7" cy="41.1" rx="1.79" ry="1.88" fill="#d050e0" opacity="0.63" filter="url(#b1)"/>
<ellipse cx="40.8" cy="37.4" rx="1.46" ry="1.4" fill="#ff50c0" opacity="0.67" filter="url(#b1)"/>
<ellipse cx="33.1" cy="34.1" rx="1.74" ry="1.7" fill="#ff60b8" opacity="0.7" filter="url(#b1)"/>
<ellipse cx="33.1" cy="35.6" rx="1.13" ry="0.92" fill="#e850d0" opacity="0.76" filter="url(#b1)"/>
<ellipse cx="40.6" cy="44.3" rx="1.39" ry="1.38" fill="#e850d0" opacity="0.97" filter="url(#b1)"/>
<ellipse cx="34.4" cy="38.2" rx="1.35" ry="1.36" fill="#d050e0" opacity="0.62" filter="url(#b1)"/>
<ellipse cx="35.2" cy="43.7" rx="1.53" ry="1.25" fill="#e850d0" opacity="0.67" filter="url(#b1)"/>
<ellipse cx="31.3" cy="33.9" rx="1.72" ry="2.22" fill="#d050e0" opacity="0.62" filter="url(#b1)"/>
<ellipse cx="35.7" cy="34.1" rx="1.8" ry="2.6" fill="#90ffc0" opacity="1" filter="url(#b1)"/>
<ellipse cx="35.7" cy="34.1" rx="1.0" ry="1.5" fill="#ffffff" opacity="1" filter="url(#b1)"/>
<ellipse cx="45.9" cy="33.5" rx="2.3" ry="2.5" fill="#a0ffb0" opacity="1" filter="url(#b1)"/>
<ellipse cx="45.9" cy="33.5" rx="1.2" ry="1.4" fill="#ffffe0" opacity="1" filter="url(#b1)"/>
<ellipse cx="43.8" cy="44.3" rx="2.2" ry="1.8" fill="#50ffa0" opacity="1" filter="url(#b1)"/>
<ellipse cx="43.8" cy="44.3" rx="1.0" ry="0.8" fill="#a0ffd0" opacity="1" filter="url(#b1)"/>
<circle cx="37.15" cy="36.5" r="29.8" fill="none" stroke="#fff" stroke-width="1.4" stroke-dasharray="1.45 1.85" opacity="0.95"/>
<text x="74.2" y="10.8" font-size="11.5" fill="#fff" text-anchor="end">18%</text>
</g></g>
<g transform="translate(385.4 289.0)"><g clip-path="url(#cc)">
<rect width="74.5" height="72.8" fill="#000"/>
<ellipse cx="38" cy="36" rx="20.8" ry="20.8" fill="#06145c" opacity="0.95" filter="url(#b4)"/>
<ellipse cx="20" cy="39.5" rx="6" ry="4.5" fill="#1644c0" opacity="0.9" filter="url(#b4)"/>
<ellipse cx="38.5" cy="35.5" rx="16.4" ry="16.4" fill="#1644c0" opacity="1" filter="url(#b4)"/>
<ellipse cx="39" cy="35" rx="12.4" ry="12.8" fill="#2068f8" opacity="1" filter="url(#b4)"/>
<ellipse cx="43" cy="31" rx="8.5" ry="7" fill="#2c90ff" opacity="0.7" filter="url(#b2)"/>
<ellipse cx="31.1" cy="35.3" rx="2.6" ry="2.2" fill="#60ffc0" opacity="1" filter="url(#b1)"/>
<ellipse cx="31.1" cy="35.3" rx="1.2" ry="1.0" fill="#c0fff0" opacity="1" filter="url(#b1)"/>
<ellipse cx="45.3" cy="30.9" rx="3.2" ry="2.4" fill="#70ffe0" opacity="1" filter="url(#b1)"/>
<ellipse cx="45.6" cy="30.7" rx="1.5" ry="1.1" fill="#d0fff8" opacity="1" filter="url(#b1)"/>
<ellipse cx="40.5" cy="30.5" rx="1.5" ry="1.4" fill="#ffc0e8" opacity="0.9" filter="url(#b1)"/>
<ellipse cx="42.8" cy="27.2" rx="1.1" ry="1.0" fill="#ff70c0" opacity="0.7" filter="url(#b1)"/>
<ellipse cx="39.3" cy="34.7" rx="1.5" ry="1.7" fill="#b060f0" opacity="0.8" filter="url(#b1)"/>
<ellipse cx="30.7" cy="43.7" rx="1.6" ry="1.6" fill="#ff50a8" opacity="1" filter="url(#b1)"/>
<ellipse cx="33.3" cy="40.7" rx="1.3" ry="1.3" fill="#f060d0" opacity="0.9" filter="url(#b1)"/>
<ellipse cx="38.7" cy="40.7" rx="1.3" ry="1.4" fill="#d060e8" opacity="0.8" filter="url(#b1)"/>
<ellipse cx="34.5" cy="44.5" rx="1.1" ry="1.3" fill="#60e0c0" opacity="0.7" filter="url(#b1)"/>
<circle cx="37.15" cy="36.5" r="29.8" fill="none" stroke="#fff" stroke-width="1.4" stroke-dasharray="1.45 1.85" opacity="0.95"/>
<text x="74.2" y="10.8" font-size="11.5" fill="#fff" text-anchor="end">31%</text>
</g></g>
<g transform="translate(463.4 289.0)"><g clip-path="url(#cc)">
<rect width="74.5" height="72.8" fill="#000"/>
<ellipse cx="76" cy="45" rx="3" ry="9" fill="#0a2474" opacity="0.9" filter="url(#b4)"/>
<ellipse cx="38.5" cy="36.3" rx="18.8" ry="20.0" fill="#06145c" opacity="0.95" filter="url(#b4)"/>
<ellipse cx="38.7" cy="36" rx="15.2" ry="16.8" fill="#1636a8" opacity="1" filter="url(#b4)"/>
<ellipse cx="38.7" cy="35.9" rx="10.8" ry="12.4" fill="#2860f4" opacity="1" filter="url(#b4)"/>
<ellipse cx="40.4" cy="38.8" rx="1.39" ry="1.3" fill="#e850d0" opacity="0.89" filter="url(#b1)"/>
<ellipse cx="35.4" cy="39.9" rx="1.19" ry="1.12" fill="#ff50c0" opacity="0.62" filter="url(#b1)"/>
<ellipse cx="35.2" cy="35.9" rx="0.93" ry="1.03" fill="#d050e0" opacity="0.83" filter="url(#b1)"/>
<ellipse cx="34.6" cy="32.2" rx="1.36" ry="1.25" fill="#ff50c0" opacity="0.63" filter="url(#b1)"/>
<ellipse cx="36.3" cy="39.2" rx="1.36" ry="1.44" fill="#ff60b8" opacity="0.5" filter="url(#b1)"/>
<ellipse cx="39.5" cy="31.9" rx="1.14" ry="1.01" fill="#ff50c0" opacity="0.85" filter="url(#b1)"/>
<ellipse cx="36.3" cy="38.7" rx="1.31" ry="1.61" fill="#ff50c0" opacity="0.56" filter="url(#b1)"/>
<ellipse cx="31.4" cy="32.1" rx="0.93" ry="0.88" fill="#e850d0" opacity="0.85" filter="url(#b1)"/>
<ellipse cx="42.5" cy="33.7" rx="1.26" ry="1.5" fill="#d050e0" opacity="0.81" filter="url(#b1)"/>
<ellipse cx="35.2" cy="27.0" rx="1.19" ry="1.18" fill="#ff60b8" opacity="0.54" filter="url(#b1)"/>
<ellipse cx="39.8" cy="34.8" rx="1.09" ry="1.36" fill="#e850d0" opacity="0.86" filter="url(#b1)"/>
<ellipse cx="43.6" cy="35.7" rx="1.31" ry="1.63" fill="#ff60b8" opacity="0.69" filter="url(#b1)"/>
<ellipse cx="37.4" cy="36.1" rx="1.06" ry="1.31" fill="#d050e0" opacity="0.66" filter="url(#b1)"/>
<ellipse cx="44.2" cy="32.2" rx="1.47" ry="1.3" fill="#e850d0" opacity="0.87" filter="url(#b1)"/>
<ellipse cx="36.7" cy="39.9" rx="2.8" ry="2.8" fill="#70ffc0" opacity="1" filter="url(#b1)"/>
<ellipse cx="36.7" cy="39.9" rx="1.5" ry="1.5" fill="#ffffff" opacity="1" filter="url(#b1)"/>
<ellipse cx="31.9" cy="29.3" rx="1.7" ry="1.6" fill="#50ff90" opacity="1" filter="url(#b1)"/>
<ellipse cx="38.1" cy="26.9" rx="1.5" ry="1.3" fill="#60f0b0" opacity="0.9" filter="url(#b1)"/>
<ellipse cx="32.5" cy="43.5" rx="1.3" ry="1.2" fill="#70e0b0" opacity="0.7" filter="url(#b1)"/>
<ellipse cx="44.1" cy="28.7" rx="1.5" ry="1.4" fill="#ff48b8" opacity="0.9" filter="url(#b1)"/>
<ellipse cx="46.5" cy="31.1" rx="1.3" ry="1.3" fill="#ff48b8" opacity="0.8" filter="url(#b1)"/>
<ellipse cx="38.1" cy="46.1" rx="1.9" ry="1.9" fill="#ff40b0" opacity="1" filter="url(#b1)"/>
<ellipse cx="30.3" cy="41.3" rx="1.2" ry="1.2" fill="#f050c0" opacity="0.8" filter="url(#b1)"/>
<circle cx="37.15" cy="36.5" r="29.8" fill="none" stroke="#fff" stroke-width="1.4" stroke-dasharray="1.45 1.85" opacity="0.95"/>
<text x="74.2" y="10.8" font-size="11.5" fill="#fff" text-anchor="end">59%</text>
</g></g>
<g stroke="#000" stroke-width="1.3" fill="none">
<path d="M94.9 212.5V361.5"/>
<path d="M146.5 212.5V284.5M146.5 289V361.5"/>
<path d="M151.6 366.2H226M229.7 366.2H304.1M307.7 366.2H382.1M385.6 366.2H537.8"/>
<path d="M463.5 390H537.8"/>
</g>
<g font-size="13.05" text-anchor="middle">
<text x="188.6" y="382.4">Control</text>
<text x="266.9" y="382.4">20 nM</text><text x="266.9" y="398.6">Colchicine</text>
<text x="344.9" y="382.4">50 nM</text><text x="344.9" y="398.6">Colchicine</text>
<text x="461.5" y="382.8">300 nM C75</text>
<text x="500.7" y="404.9">+ 20 nM</text><text x="500.7" y="420.6">Colchicine</text>
<text transform="translate(109.2 249) rotate(-90)">Bipolar</text>
<text transform="translate(124.6 249) rotate(-90)">(aligned or</text>
<text transform="translate(140.6 249) rotate(-90)">mislagined)</text>
<text transform="translate(142 325.3) rotate(-90)">Multipolar</text>
<text transform="translate(86.3 286.6) rotate(-90)" font-size="13.2"><tspan fill="#2a2a9c">DAPI</tspan><tspan fill="#222"> / </tspan><tspan fill="#1c9c3c">γ-Tubulin</tspan><tspan fill="#222"> / </tspan><tspan fill="#ee2222">ACA</tspan></text>
</g>
<!-- panel C -->
<rect x="55.70" y="496.66" width="16.4" height="145.14" fill="#d6d6d6" stroke="#000" stroke-width="1.1"/>
<rect x="55.70" y="484.38" width="16.4" height="12.29" fill="#808080" stroke="#000" stroke-width="1.1"/>
<rect x="55.70" y="466.30" width="16.4" height="18.08" fill="#e61e00" stroke="#000" stroke-width="1.1"/>
<path d="M63.90 452.26V480.52M61.50 452.26h4.8M61.50 480.52h4.8" stroke="#686868" stroke-width="0.9" fill="none"/>
<path d="M63.90 481.74V511.23M61.50 481.74h4.8M61.50 511.23h4.8" stroke="#686868" stroke-width="0.9" fill="none"/>
<rect x="80.83" y="500.17" width="16.4" height="141.63" fill="#d6d6d6" stroke="#000" stroke-width="1.1"/>
<rect x="80.83" y="476.83" width="16.4" height="23.34" fill="#808080" stroke="#000" stroke-width="1.1"/>
<rect x="80.83" y="466.30" width="16.4" height="10.53" fill="#e61e00" stroke="#000" stroke-width="1.1"/>
<path d="M89.03 459.63V472.97M86.63 459.63h4.8M86.63 472.97h4.8" stroke="#686868" stroke-width="0.9" fill="none"/>
<path d="M89.03 495.61V504.56M86.63 495.61h4.8M86.63 504.56h4.8" stroke="#686868" stroke-width="0.9" fill="none"/>
<path d="M89.03 639.69V642.68M86.63 639.69h4.8M86.63 642.68h4.8" stroke="#686868" stroke-width="0.9" fill="none"/>
<rect x="105.96" y="618.98" width="16.4" height="22.81" fill="#d6d6d6" stroke="#000" stroke-width="1.1"/>
<rect x="105.96" y="504.38" width="16.4" height="114.60" fill="#808080" stroke="#000" stroke-width="1.1"/>
<rect x="105.96" y="466.30" width="16.4" height="38.08" fill="#e61e00" stroke="#000" stroke-width="1.1"/>
<path d="M114.16 461.91V482.62M111.76 461.91h4.8M111.76 482.62h4.8" stroke="#686868" stroke-width="0.9" fill="none"/>
<path d="M114.16 491.57V515.09M111.76 491.57h4.8M111.76 515.09h4.8" stroke="#686868" stroke-width="0.9" fill="none"/>
<path d="M114.16 615.47V621.79M111.76 615.47h4.8M111.76 621.79h4.8" stroke="#686868" stroke-width="0.9" fill="none"/>
<rect x="131.09" y="637.41" width="16.4" height="4.39" fill="#000" stroke="#000" stroke-width="1.1"/>
<rect x="131.09" y="578.44" width="16.4" height="58.97" fill="#808080" stroke="#000" stroke-width="1.1"/>
<rect x="131.09" y="466.30" width="16.4" height="112.14" fill="#e61e00" stroke="#000" stroke-width="1.1"/>
<path d="M139.29 442.61V489.99M136.89 442.61h4.8M136.89 489.99h4.8" stroke="#686868" stroke-width="0.9" fill="none"/>
<path d="M139.29 558.09V597.57M136.89 558.09h4.8M136.89 597.57h4.8" stroke="#686868" stroke-width="0.9" fill="none"/>
<path d="M139.29 633.38V641.80M136.89 633.38h4.8M136.89 641.80h4.8" stroke="#686868" stroke-width="0.9" fill="none"/>
<rect x="181.35" y="516.32" width="16.4" height="125.48" fill="#d6d6d6" stroke="#000" stroke-width="1.1"/>
<rect x="181.35" y="479.11" width="16.4" height="37.21" fill="#808080" stroke="#000" stroke-width="1.1"/>
<rect x="181.35" y="466.30" width="16.4" height="12.81" fill="#e61e00" stroke="#000" stroke-width="1.1"/>
<path d="M189.55 458.05V474.37M187.15 458.05h4.8M187.15 474.37h4.8" stroke="#686868" stroke-width="0.9" fill="none"/>
<path d="M189.55 474.37V482.09M187.15 474.37h4.8M187.15 482.09h4.8" stroke="#686868" stroke-width="0.9" fill="none"/>
<path d="M189.55 505.61V526.32M187.15 505.61h4.8M187.15 526.32h4.8" stroke="#686868" stroke-width="0.9" fill="none"/>
<rect x="206.48" y="553.70" width="16.4" height="88.10" fill="#d6d6d6" stroke="#000" stroke-width="1.1"/>
<rect x="206.48" y="492.98" width="16.4" height="60.72" fill="#808080" stroke="#000" stroke-width="1.1"/>
<rect x="206.48" y="466.30" width="16.4" height="26.68" fill="#e61e00" stroke="#000" stroke-width="1.1"/>
<path d="M214.68 455.07V477.53M212.28 455.07h4.8M212.28 477.53h4.8" stroke="#686868" stroke-width="0.9" fill="none"/>
<path d="M214.68 464.54V520.53M212.28 464.54h4.8M212.28 520.53h4.8" stroke="#686868" stroke-width="0.9" fill="none"/>
<path d="M214.68 534.39V572.13M212.28 534.39h4.8M212.28 572.13h4.8" stroke="#686868" stroke-width="0.9" fill="none"/>
<rect x="231.61" y="625.48" width="16.4" height="16.32" fill="#d6d6d6" stroke="#000" stroke-width="1.1"/>
<rect x="231.61" y="521.06" width="16.4" height="104.42" fill="#808080" stroke="#000" stroke-width="1.1"/>
<rect x="231.61" y="466.30" width="16.4" height="54.76" fill="#e61e00" stroke="#000" stroke-width="1.1"/>
<path d="M239.81 462.09V470.16M237.41 462.09h4.8M237.41 470.16h4.8" stroke="#686868" stroke-width="0.9" fill="none"/>
<path d="M239.81 515.44V525.97M237.41 515.44h4.8M237.41 525.97h4.8" stroke="#686868" stroke-width="0.9" fill="none"/>
<path d="M239.81 618.28V631.97M237.41 618.28h4.8M237.41 631.97h4.8" stroke="#686868" stroke-width="0.9" fill="none"/>
<path d="M239.81 640.40V642.33M237.41 640.40h4.8M237.41 642.33h4.8" stroke="#686868" stroke-width="0.9" fill="none"/>
<rect x="256.74" y="636.18" width="16.4" height="5.62" fill="#d6d6d6" stroke="#000" stroke-width="1.1"/>
<rect x="256.74" y="572.30" width="16.4" height="63.88" fill="#808080" stroke="#000" stroke-width="1.1"/>
<rect x="256.74" y="466.30" width="16.4" height="106.00" fill="#e61e00" stroke="#000" stroke-width="1.1"/>
<path d="M264.94 443.84V488.76M262.54 443.84h4.8M262.54 488.76h4.8" stroke="#686868" stroke-width="0.9" fill="none"/>
<path d="M264.94 554.58V589.15M262.54 554.58h4.8M262.54 589.15h4.8" stroke="#686868" stroke-width="0.9" fill="none"/>
<path d="M264.94 630.04V641.27M262.54 630.04h4.8M262.54 641.27h4.8" stroke="#686868" stroke-width="0.9" fill="none"/>
<rect x="281.87" y="612.49" width="16.4" height="29.31" fill="#808080" stroke="#000" stroke-width="1.1"/>
<rect x="281.87" y="466.30" width="16.4" height="146.19" fill="#e61e00" stroke="#000" stroke-width="1.1"/>
<path d="M290.07 442.08V490.52M287.67 442.08h4.8M287.67 490.52h4.8" stroke="#686868" stroke-width="0.9" fill="none"/>
<path d="M290.07 587.57V636.36M287.67 587.57h4.8M287.67 636.36h4.8" stroke="#686868" stroke-width="0.9" fill="none"/>
<path d="M290.07 640.04V642.33M287.67 640.04h4.8M287.67 642.33h4.8" stroke="#686868" stroke-width="0.9" fill="none"/>
<rect x="332.13" y="574.76" width="16.4" height="67.04" fill="#d6d6d6" stroke="#000" stroke-width="1.1"/>
<rect x="332.13" y="495.26" width="16.4" height="79.50" fill="#808080" stroke="#000" stroke-width="1.1"/>
<rect x="332.13" y="466.30" width="16.4" height="28.96" fill="#e61e00" stroke="#000" stroke-width="1.1"/>
<path d="M340.33 451.73V480.69M337.93 451.73h4.8M337.93 480.69h4.8" stroke="#686868" stroke-width="0.9" fill="none"/>
<path d="M340.33 487.36V501.75M337.93 487.36h4.8M337.93 501.75h4.8" stroke="#686868" stroke-width="0.9" fill="none"/>
<path d="M340.33 561.42V586.87M337.93 561.42h4.8M337.93 586.87h4.8" stroke="#686868" stroke-width="0.9" fill="none"/>
<rect x="357.26" y="613.72" width="16.4" height="28.08" fill="#d6d6d6" stroke="#000" stroke-width="1.1"/>
<rect x="357.26" y="509.12" width="16.4" height="104.60" fill="#808080" stroke="#000" stroke-width="1.1"/>
<rect x="357.26" y="466.30" width="16.4" height="42.82" fill="#e61e00" stroke="#000" stroke-width="1.1"/>
<path d="M365.46 451.38V481.22M363.06 451.38h4.8M363.06 481.22h4.8" stroke="#686868" stroke-width="0.9" fill="none"/>
<path d="M365.46 504.38V512.28M363.06 504.38h4.8M363.06 512.28h4.8" stroke="#686868" stroke-width="0.9" fill="none"/>
<path d="M365.46 594.41V631.97M363.06 594.41h4.8M363.06 631.97h4.8" stroke="#686868" stroke-width="0.9" fill="none"/>
<rect x="382.39" y="640.40" width="16.4" height="1.40" fill="#d6d6d6" stroke="#000" stroke-width="1.1"/>
<rect x="382.39" y="570.20" width="16.4" height="70.20" fill="#808080" stroke="#000" stroke-width="1.1"/>
<rect x="382.39" y="466.30" width="16.4" height="103.90" fill="#e61e00" stroke="#000" stroke-width="1.1"/>
<path d="M390.59 459.98V472.27M388.19 459.98h4.8M388.19 472.27h4.8" stroke="#686868" stroke-width="0.9" fill="none"/>
<path d="M390.59 563.35V576.51M388.19 563.35h4.8M388.19 576.51h4.8" stroke="#686868" stroke-width="0.9" fill="none"/>
<path d="M390.59 638.99V642.33M388.19 638.99h4.8M388.19 642.33h4.8" stroke="#686868" stroke-width="0.9" fill="none"/>
<rect x="407.52" y="584.24" width="16.4" height="57.56" fill="#808080" stroke="#000" stroke-width="1.1"/>
<rect x="407.52" y="466.30" width="16.4" height="117.94" fill="#e61e00" stroke="#000" stroke-width="1.1"/>
<path d="M415.72 462.44V469.99M413.32 462.44h4.8M413.32 469.99h4.8" stroke="#686868" stroke-width="0.9" fill="none"/>
<path d="M415.72 579.50V587.75M413.32 579.50h4.8M413.32 587.75h4.8" stroke="#686868" stroke-width="0.9" fill="none"/>
<path d="M415.72 640.92V642.33M413.32 640.92h4.8M413.32 642.33h4.8" stroke="#686868" stroke-width="0.9" fill="none"/>
<rect x="432.65" y="620.04" width="16.4" height="21.76" fill="#808080" stroke="#000" stroke-width="1.1"/>
<rect x="432.65" y="466.30" width="16.4" height="153.74" fill="#e61e00" stroke="#000" stroke-width="1.1"/>
<path d="M440.85 451.73V480.87M438.45 451.73h4.8M438.45 480.87h4.8" stroke="#686868" stroke-width="0.9" fill="none"/>
<path d="M440.85 604.42V633.73M438.45 604.42h4.8M438.45 633.73h4.8" stroke="#686868" stroke-width="0.9" fill="none"/>
<g stroke="#000" stroke-width="1.5" fill="none">
<path d="M47.25 431.20V641.8H457.5"/>
<path d="M47.25 641.80h-3.4"/>
<path d="M47.25 624.25h-2"/>
<path d="M47.25 606.70h-3.4"/>
<path d="M47.25 589.15h-2"/>
<path d="M47.25 571.60h-3.4"/>
<path d="M47.25 554.05h-2"/>
<path d="M47.25 536.50h-3.4"/>
<path d="M47.25 518.95h-2"/>
<path d="M47.25 501.40h-3.4"/>
<path d="M47.25 483.85h-2"/>
<path d="M47.25 466.30h-3.4"/>
<path d="M47.25 448.75h-2"/>
<path d="M47.25 431.20h-3.4"/>
<path d="M63.90 641.8v3.2"/>
<path d="M89.03 641.8v3.2"/>
<path d="M114.16 641.8v3.2"/>
<path d="M139.29 641.8v3.2"/>
<path d="M164.42 641.8v3.2"/>
<path d="M189.55 641.8v3.2"/>
<path d="M214.68 641.8v3.2"/>
<path d="M239.81 641.8v3.2"/>
<path d="M264.94 641.8v3.2"/>
<path d="M290.07 641.8v3.2"/>
<path d="M315.20 641.8v3.2"/>
<path d="M340.33 641.8v3.2"/>
<path d="M365.46 641.8v3.2"/>
<path d="M390.59 641.8v3.2"/>
<path d="M415.72 641.8v3.2"/>
<path d="M440.85 641.8v3.2"/>
</g>
<g font-size="12.9">
<text x="39.45" y="646.20" text-anchor="end">0</text>
<text x="39.45" y="611.10" text-anchor="end">20</text>
<text x="39.45" y="576.00" text-anchor="end">40</text>
<text x="39.45" y="540.90" text-anchor="end">60</text>
<text x="39.45" y="505.80" text-anchor="end">80</text>
<text x="39.45" y="470.70" text-anchor="end">100</text>
<text x="63.10" y="663.7" text-anchor="middle" font-size="12.7">0</text>
<text x="88.23" y="663.7" text-anchor="middle" font-size="12.7">20</text>
<text x="113.36" y="663.7" text-anchor="middle" font-size="12.7">50</text>
<text x="138.49" y="663.7" text-anchor="middle" font-size="12.7">100</text>
<text x="188.75" y="663.7" text-anchor="middle" font-size="12.7">100</text>
<text x="213.88" y="663.7" text-anchor="middle" font-size="12.7">200</text>
<text x="239.01" y="663.7" text-anchor="middle" font-size="12.7">300</text>
<text x="264.14" y="663.7" text-anchor="middle" font-size="12.7">400</text>
<text x="289.27" y="663.7" text-anchor="middle" font-size="12.7">500</text>
<text x="339.53" y="663.7" text-anchor="middle" font-size="12.7">100</text>
<text x="364.66" y="663.7" text-anchor="middle" font-size="12.7">200</text>
<text x="389.79" y="663.7" text-anchor="middle" font-size="12.7">300</text>
<text x="414.92" y="663.7" text-anchor="middle" font-size="12.7">400</text>
<text x="440.05" y="663.7" text-anchor="middle" font-size="12.7">500</text>
<text x="101.7" y="684.6" text-anchor="middle" font-size="12.55">[Colchicine], nM</text>
<text x="312" y="684.6" text-anchor="middle" font-size="12.55">[C75], nM</text>
<text x="391.5" y="709.3" text-anchor="middle" font-size="12.55">+ 20 nM Colchicine</text>
<text transform="translate(10.8 546) rotate(-90)" text-anchor="middle" font-size="12.7">% Phenotype in HeLa cells</text>
</g>
<g stroke="#000" stroke-width="1.35" fill="none">
<path d="M55 668.8H148.2M180 668.8H449.8M331.6 694H449.8"/>
</g>
<rect x="126.8" y="715.4" width="214.5" height="31.5" fill="#fff" stroke="#000" stroke-width="1.5"/>
<rect x="131.6" y="721.9" width="16.6" height="4.8" fill="#000" stroke="#000" stroke-width="0.8"/><rect x="131.6" y="735.8000000000001" width="16.6" height="4.8" fill="#808080" stroke="#000" stroke-width="0.8"/><rect x="253.2" y="721.9" width="16.6" height="4.8" fill="#d6d6d6" stroke="#000" stroke-width="0.8"/><rect x="253.2" y="735.8000000000001" width="16.6" height="4.8" fill="#e61e00" stroke="#000" stroke-width="0.8"/>
<g font-size="9.36"><text x="157.9" y="727.5">Monopolar</text><text x="157.9" y="741.3">Bipolar misaligned</text><text x="279.5" y="727.5">Bipolar aligned</text><text x="279.5" y="741.3">Multipolar</text></g>
<rect x="511.40" y="535.22" width="14.4" height="102.88" fill="#1414ee" stroke="#05053a" stroke-width="0.95"/>
<rect x="511.40" y="490.90" width="14.4" height="44.32" fill="#e2e2e2" stroke="#111" stroke-width="0.95"/>
<rect x="533.60" y="574.00" width="14.4" height="64.10" fill="#1414ee" stroke="#05053a" stroke-width="0.95"/>
<rect x="533.60" y="556.59" width="14.4" height="17.41" fill="#e2e2e2" stroke="#111" stroke-width="0.95"/>
<rect x="555.60" y="617.52" width="14.4" height="20.58" fill="#e2e2e2" stroke="#111" stroke-width="0.95"/>
<rect x="555.60" y="604.07" width="14.4" height="13.45" fill="#1414ee" stroke="#05053a" stroke-width="0.95"/>
<rect x="577.90" y="628.60" width="14.4" height="9.50" fill="#e2e2e2" stroke="#111" stroke-width="0.95"/>
<rect x="577.90" y="617.52" width="14.4" height="11.08" fill="#1414ee" stroke="#05053a" stroke-width="0.95"/>
<rect x="600.10" y="636.25" width="14.4" height="1.85" fill="#e2e2e2" stroke="#111" stroke-width="0.95"/>
<rect x="600.10" y="599.32" width="14.4" height="36.93" fill="#1414ee" stroke="#05053a" stroke-width="0.95"/>
<g stroke="#000" stroke-width="1.5" fill="none">
<path d="M503.4 474.54V638.1H628"/>
<path d="M503.4 638.10h-3.4"/>
<path d="M503.4 611.72h-2"/>
<path d="M503.4 585.34h-3.4"/>
<path d="M503.4 558.96h-2"/>
<path d="M503.4 532.58h-3.4"/>
<path d="M503.4 506.20h-2"/>
<path d="M503.4 479.82h-3.4"/>
<path d="M518.6 638.1v3.2"/>
<path d="M540.8 638.1v3.2"/>
<path d="M562.8 638.1v3.2"/>
<path d="M585.1 638.1v3.2"/>
<path d="M607.3 638.1v3.2"/>
</g>
<g font-size="12.9">
<text x="498.2" y="642.40" text-anchor="end">0</text>
<text x="498.2" y="589.64" text-anchor="end">20</text>
<text x="498.2" y="536.88" text-anchor="end">40</text>
<text x="498.2" y="484.12" text-anchor="end">60</text>
<text x="518.1" y="655" text-anchor="middle" font-size="12.7">3</text>
<text x="540.3" y="655" text-anchor="middle" font-size="12.7">4</text>
<text x="562.3" y="655" text-anchor="middle" font-size="12.7">5</text>
<text x="584.6" y="655" text-anchor="middle" font-size="12.7">6</text>
<text x="606.8" y="655" text-anchor="middle" font-size="12.7">&gt;6</text>
<text x="561.9" y="670.6" text-anchor="middle" font-size="12.53">Number of spindle poles</text>
<text transform="translate(475.3 553.7) rotate(-90)" text-anchor="middle" font-size="13.15">% Multipolar cells</text>
</g>
<rect x="560.3" y="472.7" width="102.9" height="41.6" fill="#fff" stroke="#000" stroke-width="1.5"/>
<rect x="565.5" y="478.4" width="17.6" height="4.8" fill="#e2e2e2" stroke="#000" stroke-width="0.8"/>
<rect x="565.5" y="503.2" width="17.6" height="4.8" fill="#1414ee" stroke="#000" stroke-width="0.8"/>
<g font-size="9.36"><text x="590.2" y="484.2">300 nM C75 +</text><text x="590.2" y="496.2">20 nM Colchicine</text><text x="590.2" y="508.7">500 nM C75</text></g>
</svg></body></html>
